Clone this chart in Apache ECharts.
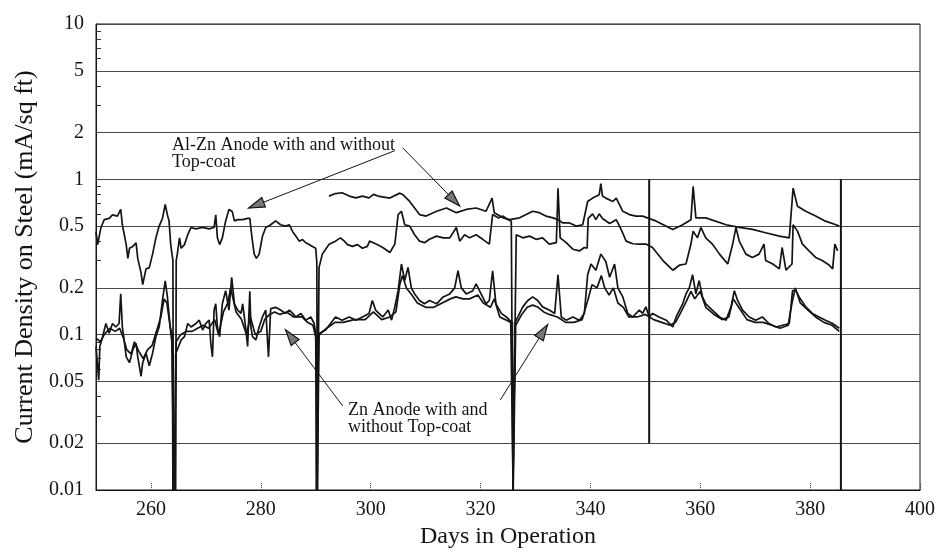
<!DOCTYPE html>
<html>
<head>
<meta charset="utf-8">
<script src="https://cdn.jsdelivr.net/npm/echarts@6/dist/echarts.min.js"></script>
<style>
html,body{margin:0;padding:0;background:#fff;}
#chart{width:938px;height:554px;}
</style>
</head>
<body>
<div id="chart"></div>
<script>
// ---- Axis ticks ----
const xTicks = [260, 280, 300, 320, 340, 360, 380, 400];
const yTicks = [0.01, 0.02, 0.05, 0.1, 0.2, 0.5, 1, 2, 5, 10];
const yMinorTicks = [0.03, 0.04, 0.06, 0.07, 0.08, 0.09, 0.3, 0.4, 0.6, 0.7, 0.8, 0.9, 3, 4, 6, 7, 8, 9];

// ---- Al-Zn anode, series 1 (lower Al-Zn trace) ----
const alZn1Days = [250.0,250.3,250.9,251.5,252.4,253.0,253.9,254.5,254.8,255.5,
255.8,256.1,256.7,257.3,257.6,258.2,258.5,259.1,259.7,260.3,
260.9,261.5,262.1,262.6,263.0,263.3,263.6,264.0,264.1,264.5,
264.6,264.8,265.2,265.5,266.1,266.7,267.3,268.2,269.4,270.6,
271.5,271.8,272.1,272.5,273.0,273.6,274.2,274.8,275.2,275.8,
276.7,277.6,278.0,278.4,278.8,279.2,279.7,280.3,280.9,281.8,
282.7,283.6,284.5,285.2,285.8,286.4,287.0,287.6,288.2,288.8,
289.4,290.0,290.2,290.3,290.5,290.6,291.2,291.8,292.4,293.0,
293.6,294.5,295.2,295.8,296.7,297.6,298.5,299.4,299.8,301.0,
302.2,303.5,304.4,305.0,305.6,306.2,307.1,308.0,308.9,309.8,
310.7,312.0,313.2,314.4,315.6,316.2,317.1,318.0,319.2,320.4,
321.6,322.2,323.2,324.1,325.0,325.6,325.9,326.1,326.5,327.7,
328.9,330.1,331.3,332.5,333.8,334.1,334.5,335.6,336.8,338.0,
338.9,339.4,339.6,340.4,341.0,341.6,342.2,343.5,344.7,345.3,
345.9,346.5,347.7,348.9,350.1,351.3,353.2,355.0,356.2,357.4,
358.3,358.7,359.5,360.1,361.0,362.2,363.5,365.0,365.9,366.5,
367.1,368.3,369.5,370.7,371.6,371.9,373.2,374.4,374.9,375.6,
376.7,376.9,377.7,378.6,379.8,381.0,382.2,383.5,384.1,384.5,
385.0];
const alZn1Vals = [0.46,0.38,0.49,0.55,0.56,0.59,0.58,0.64,0.51,0.38,
0.31,0.36,0.37,0.39,0.31,0.25,0.21,0.265,0.27,0.33,
0.42,0.50,0.56,0.69,0.59,0.54,0.38,0.30,0.01,0.01,
0.30,0.33,0.42,0.36,0.38,0.44,0.49,0.48,0.49,0.48,
0.49,0.59,0.42,0.38,0.42,0.54,0.64,0.62,0.54,0.55,
0.55,0.56,0.56,0.42,0.33,0.31,0.33,0.43,0.49,0.51,
0.54,0.51,0.50,0.51,0.46,0.43,0.40,0.41,0.39,0.38,
0.37,0.36,0.29,0.01,0.01,0.27,0.33,0.355,0.38,0.39,
0.40,0.42,0.40,0.38,0.37,0.38,0.36,0.37,0.40,0.383,
0.364,0.338,0.383,0.593,0.623,0.51,0.50,0.44,0.40,0.391,
0.411,0.431,0.42,0.42,0.49,0.40,0.44,0.42,0.44,0.411,
0.383,0.593,0.565,0.58,0.55,0.538,0.01,0.01,0.44,0.42,
0.431,0.411,0.42,0.383,0.391,0.877,0.42,0.391,0.355,0.346,
0.364,0.36,0.56,0.60,0.55,0.60,0.56,0.52,0.55,0.50,
0.45,0.40,0.385,0.383,0.383,0.364,0.30,0.26,0.28,0.285,
0.383,0.464,0.42,0.49,0.42,0.383,0.33,0.285,0.383,0.49,
0.40,0.33,0.314,0.33,0.383,0.30,0.285,0.265,0.364,0.26,
0.285,0.51,0.464,0.383,0.346,0.314,0.30,0.28,0.265,0.383,
0.346];

// ---- Al-Zn anode, series 2 (upper Al-Zn trace) ----
const alZn2Days = [292.4,293.6,294.8,296.1,297.3,298.5,299.7,300.5,301.6,303.5,
305.3,305.9,307.1,308.9,310.1,312.0,313.8,315.6,317.4,319.2,
321.0,322.1,322.5,324.1,325.3,327.1,328.3,329.5,330.7,331.9,
333.2,334.1,335.0,336.2,337.4,338.6,339.5,340.4,341.6,341.9,
342.2,342.8,344.1,344.7,345.9,347.1,348.3,349.5,351.9,355.0,
356.8,358.3,358.7,359.2,361.0,364.7,367.1,369.5,371.9,374.4,
376.2,376.9,377.7,379.2,381.0,382.8,384.7,385.3];
const alZn2Vals = [0.78,0.81,0.82,0.78,0.76,0.78,0.76,0.80,0.776,0.757,
0.815,0.795,0.721,0.593,0.58,0.623,0.654,0.61,0.64,0.654,
0.623,0.757,0.61,0.565,0.55,0.565,0.593,0.623,0.61,0.58,
0.565,0.55,0.524,0.524,0.50,0.51,0.72,0.757,0.795,0.94,
0.78,0.757,0.72,0.757,0.623,0.593,0.58,0.58,0.54,0.476,
0.51,0.55,0.90,0.565,0.565,0.51,0.49,0.476,0.453,0.431,
0.42,0.877,0.67,0.623,0.58,0.538,0.51,0.50];

// ---- Zn anode, series 1 ----
const zn1Days = [250.0,250.5,250.7,251.2,251.8,252.4,253.0,253.6,254.2,254.5,
254.8,255.2,255.5,256.1,256.7,257.3,257.6,258.2,258.5,259.1,
259.7,260.3,260.9,261.5,262.1,262.6,263.0,263.5,263.9,264.0,
264.4,264.5,264.8,265.5,266.1,266.7,267.3,268.2,268.8,269.4,
270.0,270.6,270.9,271.2,271.5,271.8,272.1,272.5,273.0,273.6,
274.2,274.7,275.2,275.8,276.4,276.7,277.0,277.3,277.6,278.0,
278.2,278.5,279.1,279.7,280.3,280.9,281.4,281.8,282.7,283.6,
284.5,285.2,285.8,286.4,287.3,288.2,289.1,289.7,290.0,290.1,
290.4,290.5,290.7,291.8,292.7,293.6,294.8,296.1,297.3,298.5,
299.7,300.3,300.9,301.5,302.2,303.2,303.8,304.4,305.0,305.6,
306.2,306.8,307.4,308.0,308.9,309.8,310.7,312.0,313.2,314.4,
315.3,315.9,316.5,317.4,318.6,319.2,320.1,321.0,321.6,322.2,
322.8,323.8,324.7,325.3,325.8,325.9,326.2,326.3,326.8,327.7,
328.6,329.5,330.4,331.3,332.5,333.5,334.1,334.7,335.6,336.8,
338.0,338.9,339.5,340.1,341.0,341.9,342.8,343.5,344.4,345.0,
345.9,346.8,347.7,348.9,349.5,350.1,350.7,351.3,352.5,353.8,
355.0,355.6,356.8,357.4,358.0,358.6,359.2,359.8,360.4,361.0,
362.2,363.5,364.7,365.6,366.2,366.8,367.7,368.9,370.1,371.3,
372.5,373.8,375.0,376.2,376.8,377.4,378.0,379.2,380.4,381.6,
382.8,384.1,385.3];
const zn1Vals = [0.084,0.051,0.084,0.097,0.118,0.102,0.118,0.112,0.118,0.183,
0.112,0.088,0.072,0.066,0.080,0.088,0.072,0.054,0.066,0.076,
0.063,0.076,0.097,0.112,0.166,0.222,0.175,0.112,0.10,0.01,
0.01,0.075,0.080,0.0925,0.097,0.118,0.112,0.118,0.124,0.107,
0.118,0.124,0.088,0.072,0.144,0.158,0.112,0.097,0.158,0.192,
0.144,0.234,0.158,0.144,0.137,0.158,0.130,0.107,0.084,0.19,
0.112,0.097,0.0925,0.112,0.130,0.144,0.072,0.147,0.150,0.144,
0.137,0.144,0.137,0.130,0.137,0.124,0.130,0.118,0.102,0.01,
0.01,0.09,0.102,0.107,0.118,0.130,0.124,0.130,0.124,0.130,
0.137,0.166,0.144,0.137,0.130,0.144,0.124,0.151,0.192,0.285,
0.223,0.271,0.200,0.183,0.166,0.158,0.166,0.158,0.175,0.183,
0.200,0.258,0.200,0.183,0.192,0.212,0.183,0.158,0.166,0.258,
0.158,0.137,0.130,0.124,0.12,0.01,0.01,0.12,0.130,0.151,
0.166,0.175,0.166,0.151,0.144,0.137,0.243,0.130,0.124,0.130,
0.124,0.137,0.243,0.285,0.26,0.33,0.296,0.234,0.285,0.200,
0.175,0.137,0.130,0.144,0.137,0.151,0.130,0.137,0.130,0.124,
0.112,0.130,0.158,0.183,0.200,0.243,0.183,0.223,0.175,0.158,
0.144,0.130,0.124,0.151,0.192,0.166,0.144,0.130,0.124,0.130,
0.118,0.112,0.115,0.118,0.192,0.192,0.175,0.151,0.137,0.130,
0.124,0.118,0.110];

// ---- Zn anode, series 2 ----
const zn2Days = [250.0,250.8,251.5,252.5,253.5,254.3,255.0,255.6,256.4,257.0,
257.8,258.6,259.4,260.2,261.0,261.8,262.4,262.9,263.4,263.8,
264.2,264.3,264.6,265.4,266.4,267.5,268.5,269.5,270.5,271.6,
272.3,273.2,274.0,274.5,275.5,276.5,277.4,278.1,279.0,280.0,
280.7,281.6,282.5,283.5,284.7,286.0,287.5,288.5,289.5,290.2,
290.3,290.45,290.6,292.0,293.5,295.0,297.0,299.0,300.5,302.0,
303.5,304.6,305.3,305.8,306.5,307.5,308.5,310.0,311.5,313.0,
314.5,315.5,316.8,318.0,319.5,320.5,321.8,322.5,323.5,324.5,
325.5,325.95,326.15,326.4,327.5,328.5,329.5,330.5,331.5,332.5,
334.0,335.5,337.0,338.5,339.6,340.3,341.2,342.0,342.6,343.4,
344.2,345.0,346.0,347.0,348.5,350.0,351.5,353.0,354.5,355.5,
356.5,357.5,358.3,359.0,360.0,361.0,362.5,364.0,365.2,366.0,
367.0,368.5,370.0,371.5,373.0,374.5,376.0,376.7,377.3,378.2,
379.5,381.0,382.5,384.0,385.3];
const zn2Vals = [0.095,0.09,0.10,0.11,0.105,0.11,0.095,0.08,0.075,0.09,
0.078,0.07,0.08,0.085,0.105,0.13,0.17,0.16,0.12,0.09,
0.01,0.01,0.09,0.10,0.105,0.105,0.11,0.115,0.11,0.125,
0.10,0.14,0.16,0.20,0.14,0.125,0.10,0.13,0.10,0.105,
0.125,0.135,0.14,0.135,0.14,0.13,0.13,0.12,0.115,0.09,
0.01,0.01,0.10,0.11,0.12,0.12,0.125,0.125,0.14,0.125,
0.13,0.14,0.21,0.24,0.20,0.18,0.16,0.15,0.15,0.16,
0.17,0.175,0.17,0.17,0.18,0.16,0.15,0.17,0.13,0.125,
0.12,0.01,0.01,0.115,0.135,0.15,0.155,0.15,0.14,0.135,
0.13,0.12,0.12,0.125,0.17,0.21,0.20,0.24,0.20,0.18,
0.20,0.16,0.15,0.13,0.13,0.135,0.125,0.12,0.115,0.12,
0.14,0.165,0.19,0.17,0.19,0.15,0.135,0.125,0.13,0.17,
0.15,0.125,0.12,0.12,0.115,0.11,0.115,0.16,0.20,0.16,
0.145,0.13,0.12,0.115,0.105];

// ---- Vertical interruption lines ----
const gapDays = [350.7, 385.6];
const gapTop = [1, 1];
const gapBottom = [0.02, 0.01];

// ---- Annotation arrows ----
const arrowFromDay = [304.4, 305.8, 294.9, 323.6];
const arrowFromVal = [1.53, 1.60, 0.0348, 0.038];
const arrowToDay = [277.8, 316.2, 284.5, 332.2];
const arrowToVal = [0.653, 0.673, 0.1077, 0.116];

// ---- Annotation texts ----
const noteAlZn = 'Al-Zn Anode with and without\nTop-coat';
const noteZn = 'Zn Anode with and\nwithout Top-coat';

const FONT = '"Liberation Serif", "DejaVu Serif", serif';
const INK = '#141414';

function pairs(days, vals) {
  const n = Math.min(days.length, vals.length);
  const out = [];
  for (let i = 0; i < n; i++) out.push([days[i], vals[i]]);
  return out;
}

function traceSeries(name, days, vals) {
  return {
    name: name,
    type: 'line',
    data: pairs(days, vals),
    symbol: 'none',
    lineStyle: { color: INK, width: 1.7 },
    silent: true,
    animation: false,
    z: 3
  };
}

const series = [
  traceSeries('Al-Zn Anode 1', alZn1Days, alZn1Vals),
  traceSeries('Al-Zn Anode 2', alZn2Days, alZn2Vals),
  traceSeries('Zn Anode 1', zn1Days, zn1Vals),
  traceSeries('Zn Anode 2', zn2Days, zn2Vals)
];

gapDays.forEach(function (d, i) {
  series.push({
    name: 'gap' + i,
    type: 'line',
    data: [[d, gapTop[i]], [d, gapBottom[i]]],
    symbol: 'none',
    lineStyle: { color: INK, width: 2 },
    silent: true,
    animation: false,
    z: 3
  });
});

arrowFromDay.forEach(function (d, i) {
  series.push({
    name: 'arrow' + i,
    type: 'line',
    data: [[d, arrowFromVal[i]], [arrowToDay[i], arrowToVal[i]]],
    symbol: 'none',
    lineStyle: { color: INK, width: 1 },
    silent: true,
    animation: false,
    z: 4
  });
});

const chart = echarts.init(document.getElementById('chart'), null, { renderer: 'canvas' });

function buildOption(heads) {
  return {
    backgroundColor: '#ffffff',
    animation: false,
    grid: {
      left: 96, right: 16, top: 24, bottom: 59,
      show: true, borderColor: INK, borderWidth: 1, containLabel: false
    },
    xAxis: {
      type: 'value',
      min: 250,
      max: 400,
      name: 'Days in Operation',
      nameLocation: 'middle',
      nameGap: 35,
      nameTextStyle: { fontFamily: FONT, fontSize: 24, color: INK },
      axisLine: { show: true, lineStyle: { color: INK, width: 1 } },
      axisTick: { show: true, inside: true, length: 8, customValues: xTicks, lineStyle: { color: '#444', type: 'dotted' } },
      axisLabel: { customValues: xTicks, fontFamily: FONT, fontSize: 20, color: INK, margin: 10 },
      splitLine: { show: false }
    },
    yAxis: [
      {
        type: 'log',
        logBase: 10,
        min: 0.01,
        max: 10,
        name: 'Current Density on Steel (mA/sq ft)',
        nameLocation: 'middle',
        nameGap: 57,
        nameTextStyle: { fontFamily: FONT, fontSize: 26, color: INK },
        axisLine: { show: true, lineStyle: { color: INK, width: 1 } },
        axisTick: { show: false, customValues: yTicks },
        axisLabel: {
          customValues: yTicks,
          fontFamily: FONT, fontSize: 20, color: INK, margin: 12,
          formatter: function (v) { return String(+Number(v).toPrecision(3)); }
        },
        splitLine: { show: true, lineStyle: { color: '#4a4a4a', width: 1 } }
      },
      {
        type: 'log',
        logBase: 10,
        min: 0.01,
        max: 10,
        position: 'left',
        axisLine: { show: false },
        axisTick: { show: true, inside: true, length: 5, customValues: yMinorTicks, lineStyle: { color: '#333' } },
        axisLabel: { show: false },
        splitLine: { show: false }
      }
    ],
    graphic: [
      {
        type: 'text', left: 172, top: 136, silent: true,
        style: { text: noteAlZn, font: '18px ' + FONT, fill: INK, lineHeight: 17 }
      },
      {
        type: 'text', left: 348, top: 401, silent: true,
        style: { text: noteZn, font: '18px ' + FONT, fill: INK, lineHeight: 17 }
      }
    ].concat(heads),
    series: series
  };
}

chart.setOption(buildOption([]));

// arrow heads: positioned via the chart's own coordinate conversion
const heads = arrowToDay.map(function (d, i) {
  const p1 = chart.convertToPixel({ gridIndex: 0 }, [arrowFromDay[i], arrowFromVal[i]]);
  const p2 = chart.convertToPixel({ gridIndex: 0 }, [d, arrowToVal[i]]);
  const ang = Math.atan2(p2[1] - p1[1], p2[0] - p1[0]);
  const L = 16, W = 5;
  const bx = p2[0] - L * Math.cos(ang), by = p2[1] - L * Math.sin(ang);
  const nx = -Math.sin(ang) * W, ny = Math.cos(ang) * W;
  return {
    type: 'polygon', silent: true, z: 10,
    shape: { points: [[p2[0], p2[1]], [bx + nx, by + ny], [bx - nx, by - ny]] },
    style: { fill: '#777', stroke: INK, lineWidth: 1.2 }
  };
});
chart.setOption(buildOption(heads), { replaceMerge: ['graphic'] });
</script>
</body>
</html>
